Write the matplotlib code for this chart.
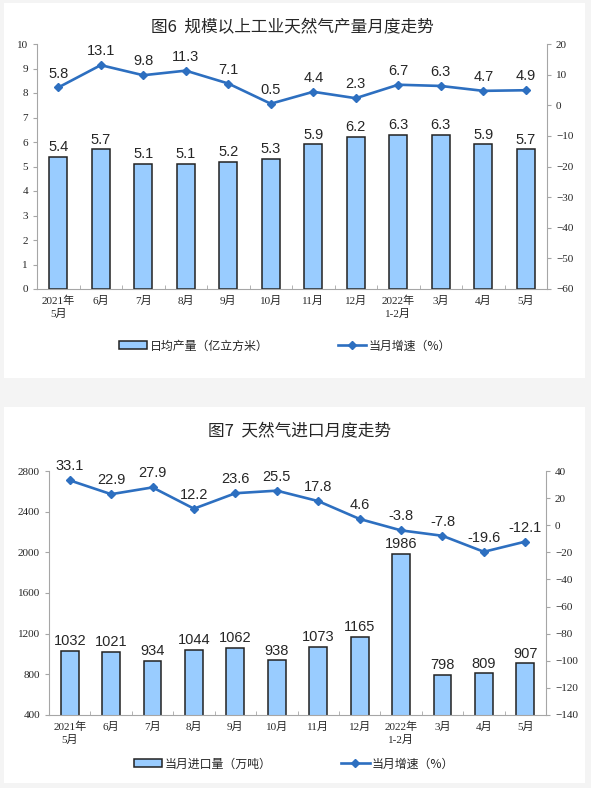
import matplotlib.pyplot as plt
import matplotlib.patches as mpatches
import numpy as np

plt.rcParams['font.family'] = ['Noto Sans CJK SC', 'DejaVu Sans']

months = ['2021年\n5月', '6月', '7月', '8月', '9月', '10月', '11月', '12月',
          '2022年\n1-2月', '3月', '4月', '5月']

# fig 6: daily output (100 million m3) and growth (%)
output = [5.4, 5.7, 5.1, 5.1, 5.2, 5.3, 5.9, 6.2, 6.3, 6.3, 5.9, 5.7]
output_growth = [5.8, 13.1, 9.8, 11.3, 7.1, 0.5, 4.4, 2.3, 6.7, 6.3, 4.7, 4.9]

# fig 7: monthly imports (10k tonnes) and growth (%)
imports = [1032, 1021, 934, 1044, 1062, 938, 1073, 1165, 1986, 798, 809, 907]
import_growth = [33.1, 22.9, 27.9, 12.2, 23.6, 25.5, 17.8, 4.6, -3.8, -7.8, -19.6, -12.1]

W, H = 591, 788
BAR = '#99CCFF'
LINE = '#2D6FC0'
AXC = '#A6A6A6'
TXT = '#262626'
tick_font = ['Liberation Serif', 'Noto Sans CJK SC']
num_font = ['Liberation Sans', 'DejaVu Sans']

fig = plt.figure(figsize=(W / 100, H / 100), dpi=100, facecolor='#F4F4F4')

# white panels
for (y0, y1) in [(3, 378), (407, 783)]:
    fig.patches.append(mpatches.Rectangle((4 / W, 1 - y1 / H), 581 / W, (y1 - y0) / H,
                                          transform=fig.transFigure, facecolor='white',
                                          edgecolor='none', zorder=-5))


def px_axes(x0, x1, ytop, ybot):
    return fig.add_axes([x0 / W, 1 - ybot / H, (x1 - x0) / W, (ybot - ytop) / H])


def style(ax, ax2):
    for a in (ax, ax2):
        a.set_facecolor('none')
        a.spines['top'].set_visible(False)
        for s in ('left', 'right', 'bottom'):
            a.spines[s].set_color(AXC)
            a.spines[s].set_linewidth(0.8)
        a.tick_params(axis='y', colors=AXC, length=3, width=0.8, labelcolor=TXT,
                      labelsize=8)
        for lab in a.get_yticklabels():
            lab.set_family(tick_font)
    ax.spines['right'].set_visible(False)
    ax2.spines['left'].set_visible(False)
    ax2.spines['bottom'].set_visible(False)


def draw(ax, bars, growth, bar_lim, bar_ticks, g_lim, g_ticks, bar_fmt, bar_name, title,
         title_y, legend_y, legend_x):
    x = np.arange(len(months))
    ax2 = ax.twinx()
    ax.bar(x, bars, width=0.43, color=BAR, edgecolor='#222222', linewidth=1.1,
           label=bar_name, zorder=2)
    ax.set_xlim(-0.5, len(months) - 0.5)
    ax.set_ylim(*bar_lim)
    ax.set_yticks(bar_ticks)
    ax.set_xticks(x)
    ax.set_xticklabels(months, fontsize=8, color=TXT, linespacing=1.3)
    for lab in ax.get_xticklabels():
        lab.set_family(tick_font)
    ax.tick_params(axis='x', length=0, pad=5)
    ax.set_xticks(np.arange(-0.5, len(months)), minor=True)
    ax.tick_params(axis='x', which='minor', length=3, color=AXC, direction='in')
    for xi, v in zip(x, bars):
        ax.annotate(bar_fmt(v), (xi, v), xytext=(0, 2), textcoords='offset points',
                    ha='center', va='bottom', fontsize=10.5, color=TXT, family=num_font)

    ax2.plot(x, growth, color=LINE, lw=1.9, marker='D', ms=4, label='当月增速（%）',
             zorder=3)
    ax2.set_ylim(*g_lim)
    ax2.set_yticks(g_ticks)
    for xi, v in zip(x, growth):
        ax2.annotate(f'{v:.1f}', (xi, v), xytext=(0, 5), textcoords='offset points',
                     ha='center', va='bottom', fontsize=10.5, color=TXT, family=num_font)
    style(ax, ax2)

    fig.text(title_y[0] / W, 1 - title_y[1] / H, title, ha='center', va='center',
             fontsize=12, color=TXT, fontweight='medium')
    h1, l1 = ax.get_legend_handles_labels()
    h2, l2 = ax2.get_legend_handles_labels()
    fig.legend(h1 + h2, l1 + l2, loc='center', bbox_to_anchor=(legend_x / W, 1 - legend_y / H),
               ncol=2, frameon=False, fontsize=8.6, handlelength=2.4, handleheight=0.6,
               handletextpad=0.2, columnspacing=5.8, labelcolor=TXT)


ax_a = px_axes(37, 547, 44, 289)
draw(ax_a, output, output_growth, (0, 10), range(0, 11), (-60, 20), range(-60, 21, 10),
     lambda v: f'{v:.1f}', '日均产量（亿立方米）', '图6  规模以上工业天然气产量月度走势',
     (292, 28), 346, 285)

ax_b = px_axes(49, 546, 471, 715)
draw(ax_b, imports, import_growth, (400, 2800), range(400, 2801, 400), (-140, 40),
     range(-140, 41, 20), lambda v: f'{v:d}', '当月进口量（万吨）', '图7  天然气进口月度走势',
     (299, 432), 764, 294)

fig.savefig('out.png', dpi=100, facecolor=fig.get_facecolor())
